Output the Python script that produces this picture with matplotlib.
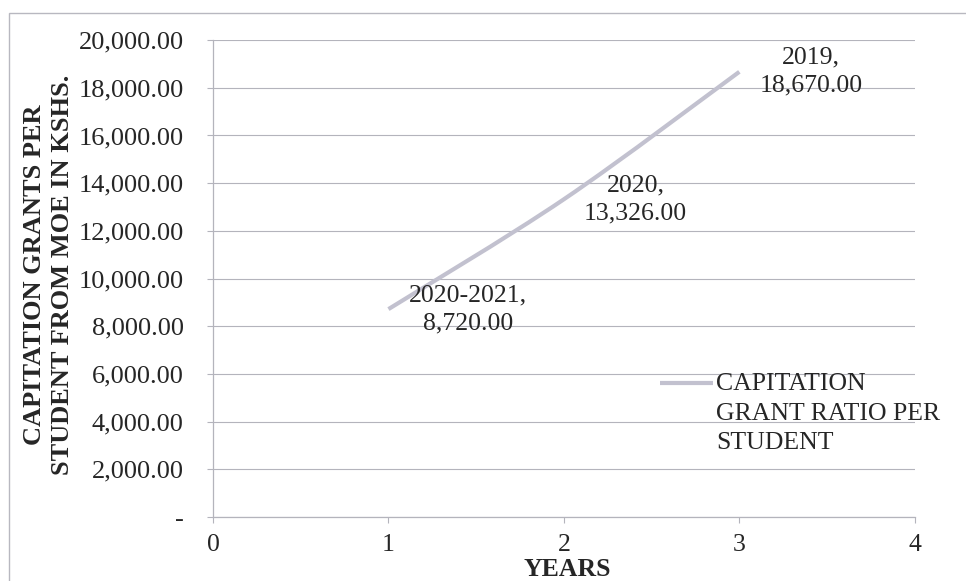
import numpy as np
import matplotlib.pyplot as plt
from matplotlib.path import Path
from matplotlib.patches import PathPatch, Rectangle
from matplotlib.ticker import FuncFormatter

# data
years = ["2020-2021", "2020", "2019"]
xpos = [1, 2, 3]
grant = [8720.00, 13326.00, 18670.00]
series_name = "CAPITATION\nGRANT RATIO PER\nSTUDENT"

plt.rcParams['font.family'] = ['Liberation Serif', 'DejaVu Serif']
line_col = '#c2c1cf'
grid_col = '#b4b4bc'
text_col = '#262626'
fs = 18.5

fig = plt.figure(figsize=(9.66, 5.81), dpi=100)
ax = fig.add_axes([0.2205, 0.110, 0.7265, 0.821])

# smoothed line like excel: catmull-rom as cubic bezier segments
pts = np.column_stack([xpos, grant])
ext = np.vstack([pts[0], pts, pts[-1]])
verts = [tuple(pts[0])]
codes = [Path.MOVETO]
for i in range(1, len(ext) - 2):
    p0, p1, p2, p3 = ext[i - 1], ext[i], ext[i + 1], ext[i + 2]
    c1 = p1 + (p2 - p0) / 6.0
    c2 = p2 - (p3 - p1) / 6.0
    verts += [tuple(c1), tuple(c2), tuple(p2)]
    codes += [Path.CURVE4] * 3
ax.add_patch(PathPatch(Path(verts, codes), fill=False, edgecolor=line_col,
                       lw=3.0, capstyle='butt', zorder=3))

# data labels, right of each point
for x, y, lab in zip(xpos, grant, years):
    ax.annotate("%s,\n%s" % (lab, format(y, ",.2f")), (x, y),
                xytext=(14.5, 0), textcoords='offset points',
                ha='left', va='center', multialignment='center',
                fontsize=fs, color=text_col, linespacing=1.35, zorder=4)

ax.set_xlim(0, 4)
ax.set_ylim(0, 20000)
ax.set_xticks([0, 1, 2, 3, 4])
ax.set_yticks(np.arange(0, 20001, 2000))
ax.yaxis.set_major_formatter(FuncFormatter(lambda v, p: "-" if v == 0 else format(v, ",.2f")))
ax.tick_params(axis='y', length=4.5, color=grid_col, labelsize=19, labelcolor=text_col, pad=16.5)
ax.tick_params(axis='x', length=4, color=grid_col, labelsize=fs, labelcolor=text_col, pad=8)
ax.grid(axis='y', color=grid_col, lw=0.8)
ax.set_axisbelow(True)
for s in ['top', 'right']:
    ax.spines[s].set_visible(False)
for s in ['left', 'bottom']:
    ax.spines[s].set_color(grid_col)
    ax.spines[s].set_linewidth(0.9)

fig.text(567 / 966, 1 - 569 / 581, "YEARS", ha='center', va='center',
         fontsize=fs, fontweight='bold', color=text_col)
fig.text(0.05, 0.527, "CAPITATION GRANTS PER\nSTUDENT FROM MOE IN KSHS.", rotation=90,
         ha='center', va='center', fontsize=19, fontweight='bold', color=text_col,
         linespacing=1.25)

# legend placed by hand: handle lines up with the first text row
ax.plot([0.637, 0.713], [0.282, 0.282], transform=ax.transAxes, color=line_col,
        lw=3.0, solid_capstyle='butt', clip_on=False)
ax.text(0.717, 0.302, series_name, transform=ax.transAxes, ha='left', va='top',
        fontsize=fs, color=text_col, linespacing=1.45)

# outer chart border
fig.patches.append(Rectangle((0.009, -0.05), 1.2, 1.028, transform=fig.transFigure,
                             fill=False, edgecolor='#b8b8c0', lw=1.0))

fig.savefig("out.png", dpi=100)
